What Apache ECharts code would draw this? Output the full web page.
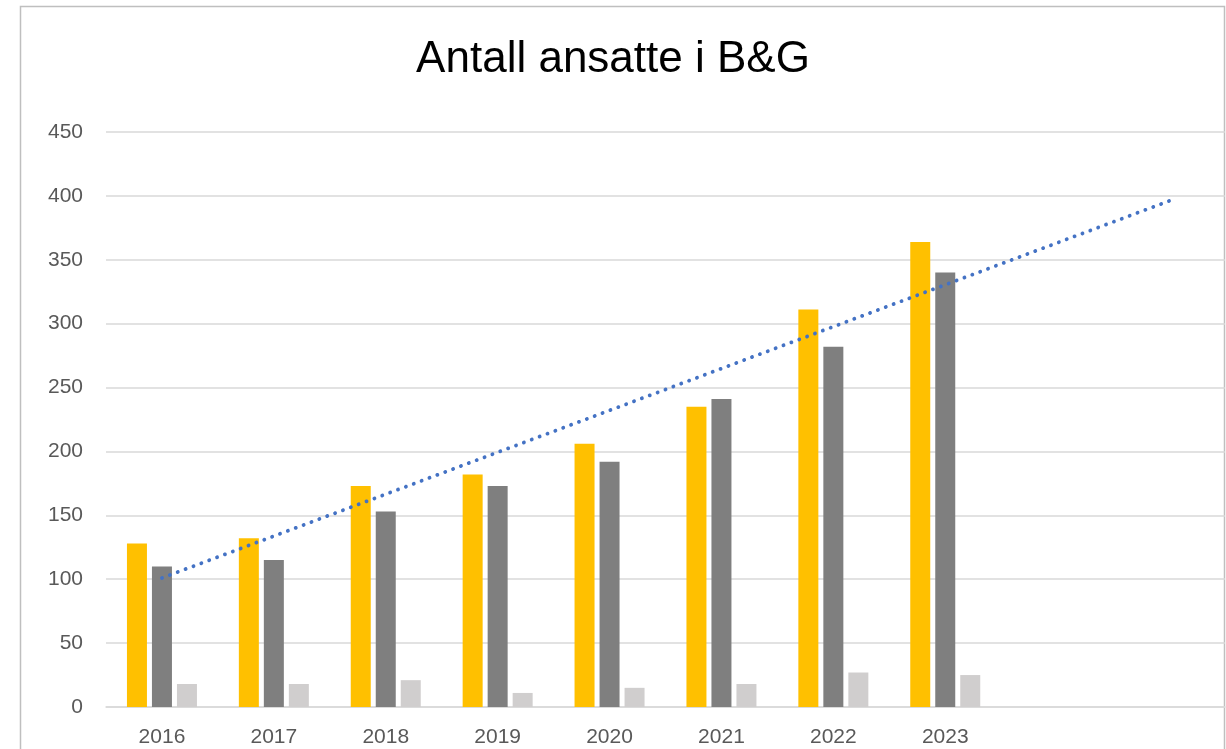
<!DOCTYPE html>
<html>
<head>
<meta charset="utf-8">
<script src="https://cdn.jsdelivr.net/npm/echarts@6/dist/echarts.min.js"></script>
<style>
html, body { margin: 0; padding: 0; background: #fff; }
#container { width: 1226px; height: 749px; }
</style>
</head>
<body>
<div id="container"></div>
<script>
// data
let years = ['2016', '2017', '2018', '2019', '2020', '2021', '2022', '2023', '', ''];
let serieA = [128, 132, 173, 182, 206, 235, 311, 364];
let serieB = [110, 115, 153, 173, 192, 241, 282, 340];
let serieC = [18, 18, 21, 11, 15, 18, 27, 25];
// trend line end points (2016 and two periods past 2023)
let trend = [101, null, null, null, null, null, null, null, null, 396];
let yTicks = { min: 0, max: 450, step: 50 };

let dom = document.getElementById("container");
let myChart = echarts.init(dom);
let font = "'Liberation Sans', Arial, sans-serif";

let option = {
    animation: false,
    backgroundColor: '#fff',
    title: {
        text: 'Antall ansatte i B&G',
        left: 'center',
        top: 33,
        textStyle: {
            fontFamily: font,
            fontSize: 44,
            fontWeight: 'normal',
            color: '#000'
        }
    },
    graphic: [{
        type: 'rect',
        shape: { x: 20.5, y: 6.5, width: 1204, height: 800 },
        style: { fill: 'none', stroke: '#BFBFBF', lineWidth: 1.5 },
        silent: true
    }],
    grid: {
        left: 106,
        right: 1,
        top: 132,
        bottom: 42,
        containLabel: false
    },
    xAxis: {
        type: 'category',
        data: years,
        axisTick: { show: false },
        axisLine: { lineStyle: { color: '#D9D9D9', width: 1.5 } },
        axisLabel: {
            margin: 20,
            color: '#595959',
            fontFamily: font,
            fontSize: 21,
            interval: 0
        }
    },
    yAxis: {
        type: 'value',
        min: yTicks.min,
        max: yTicks.max,
        interval: yTicks.step,
        axisLine: { show: false },
        axisTick: { show: false },
        splitLine: { lineStyle: { color: '#D9D9D9', width: 1.5 } },
        axisLabel: {
            margin: 23,
            color: '#595959',
            fontFamily: font,
            fontSize: 21
        }
    },
    series: [{
        type: 'bar',
        data: serieA,
        barWidth: 20,
        barGap: '25%',
        itemStyle: { color: '#FFC000' }
    }, {
        type: 'bar',
        data: serieB,
        barWidth: 20,
        barGap: '25%',
        itemStyle: { color: '#7F7F7F' }
    }, {
        type: 'bar',
        data: serieC,
        barWidth: 20,
        barGap: '25%',
        itemStyle: { color: '#D0CECE' }
    }, {
        type: 'line',
        data: trend,
        connectNulls: true,
        symbol: 'none',
        z: 5,
        lineStyle: {
            color: '#4472C4',
            width: 3.8,
            type: [0.1, 8.3],
            cap: 'round'
        }
    }]
};

myChart.setOption(option);
</script>
</body>
</html>
